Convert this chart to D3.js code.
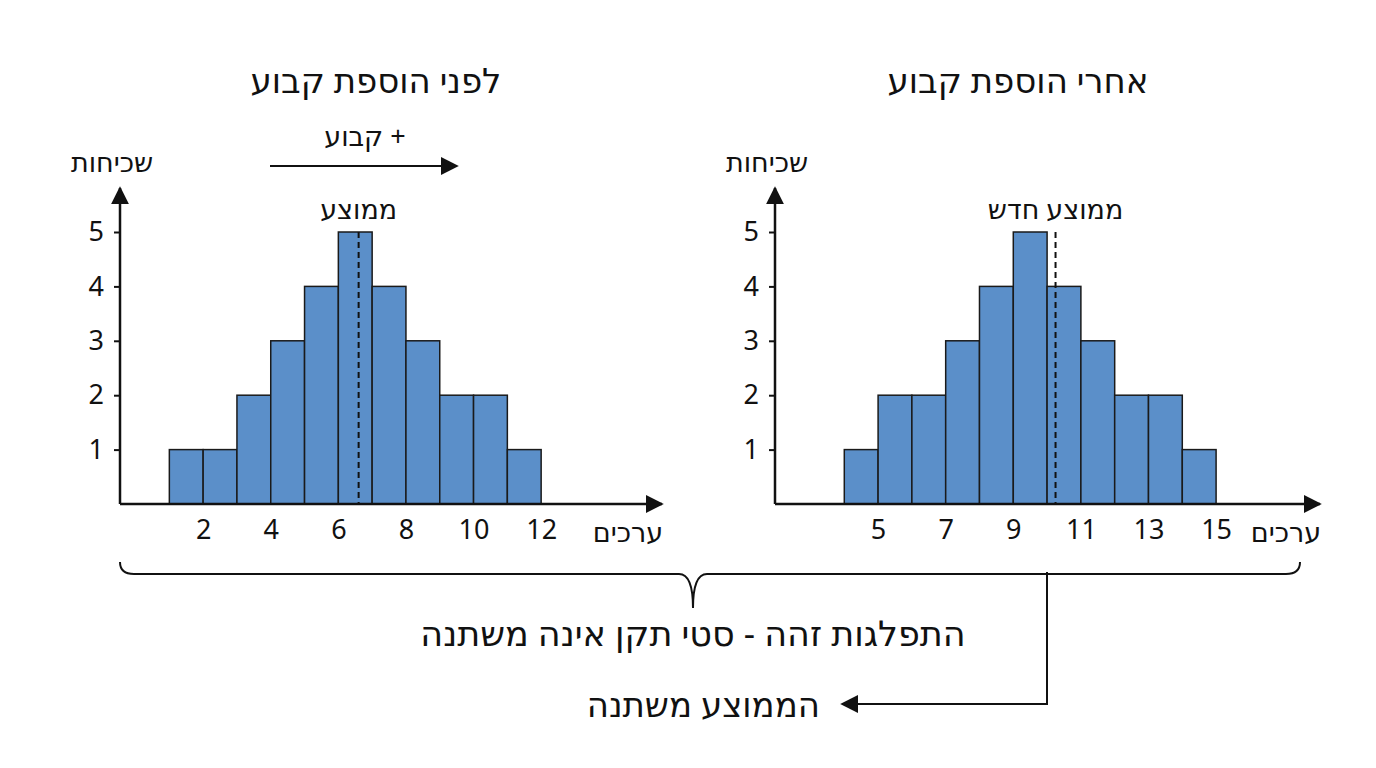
<!DOCTYPE html>
<html><head><meta charset="utf-8">
<script src="https://cdn.jsdelivr.net/npm/d3@7"></script>
<style>body{margin:0;background:#fff}text{font-family:"Noto Sans","DejaVu Sans",sans-serif;fill:#111}</style>
</head><body><svg id="c" width="1376" height="768"></svg>
<script>
// bins: [start, end, count]
const beforeBins = [[1,2,1],[2,3,1],[3,4,2],[4,5,3],[5,6,4],[6,7,5],[7,8,4],[8,9,3],[9,10,2],[10,11,2],[11,12,1]];
const afterBins = [[4,5,1],[5,6,2],[6,7,2],[7,8,3],[8,9,4],[9,10,5],[10,11,4],[11,12,3],[12,13,2],[13,14,2],[14,15,1]];
const beforeTicks = [2,4,6,8,10,12];
const afterTicks = [5,7,9,11,13,15];
const beforeMean = 6.6;
const afterMean = 10.25;
const yTicks = [1,2,3,4,5];

const svg = d3.select("#c");
const defs = svg.append("defs");
defs.append("marker").attr("id","ar").attr("viewBox","0 0 10 10").attr("refX",9).attr("refY",5)
  .attr("markerWidth",18).attr("markerHeight",18).attr("markerUnits","userSpaceOnUse").attr("orient","auto")
  .append("path").attr("d","M0,0L10,5L0,10z").attr("fill","#111");

const y = d3.scaleLinear().domain([0,5]).range([504,232]);

function heb(x, yy, t, size, anchor) {
  return svg.append("text").attr("x",x).attr("y",yy).attr("direction","rtl")
    .attr("text-anchor",anchor||"middle").attr("font-size",size).text(t);
}

function panel(bins, ticks, mean, x0, x1, d0, title, titleX, meanLabel) {
  const ppu = 33.8;
  const x = d3.scaleLinear().domain([d0, d0 + (x1 - x0) / ppu]).range([x0, x1]);
  svg.append("g").selectAll("rect").data(bins).join("rect")
    .attr("x", d => x(d[0])).attr("y", d => y(d[2]))
    .attr("width", d => x(d[1]) - x(d[0])).attr("height", d => y(0) - y(d[2]))
    .attr("fill","#5b8fc9").attr("stroke","#1a1a1a").attr("stroke-width",1.5);
  svg.append("line").attr("x1",x0).attr("y1",504).attr("x2",x1).attr("y2",504)
    .attr("stroke","#111").attr("stroke-width",2.5).attr("marker-end","url(#ar)");
  svg.append("line").attr("x1",x0).attr("y1",504).attr("x2",x0).attr("y2",188)
    .attr("stroke","#111").attr("stroke-width",2.5).attr("marker-end","url(#ar)");
  const gx = svg.append("g").attr("transform","translate(0,504)")
    .call(d3.axisBottom(x).tickValues(ticks).tickSize(0).tickPadding(16));
  gx.select(".domain").remove();
  gx.selectAll("text").attr("font-size",27).style("font-family","Noto Sans, sans-serif");
  const gy = svg.append("g").attr("transform","translate("+x0+",0)")
    .call(d3.axisLeft(y).tickValues(yTicks).tickFormat(d3.format("d")).tickSize(6).tickPadding(10));
  gy.select(".domain").remove();
  gy.selectAll("line").attr("stroke","#111").attr("stroke-width",2);
  gy.selectAll("text").attr("font-size",27).style("font-family","Noto Sans, sans-serif");
  svg.append("line").attr("x1",x(mean)).attr("x2",x(mean)).attr("y1",232).attr("y2",504)
    .attr("stroke","#111").attr("stroke-width",2).attr("stroke-dasharray","6,4");
  heb(x(mean), 219, meanLabel, 27);
  heb(titleX, 93, title, 34);
  heb(x0 - 8, 172, "שכיחות", 27);
  heb(x1 - 34, 542, "ערכים", 27);
  return x;
}

panel(beforeBins, beforeTicks, beforeMean, 120, 662, -0.46, "לפני הוספת קבוע", 376, "ממוצע");
panel(afterBins, afterTicks, afterMean, 775, 1320, 1.95, "אחרי הוספת קבוע", 1018, "ממוצע חדש");

// shift arrow
svg.append("line").attr("x1",270).attr("x2",457).attr("y1",166).attr("y2",166)
  .attr("stroke","#111").attr("stroke-width",2).attr("marker-end","url(#ar)");
heb(365, 146, "+ קבוע", 27);

// brace
const bl = 120, br = 1300, bm = 693, bt = 562, bb = 584;
svg.append("path").attr("fill","none").attr("stroke","#111").attr("stroke-width",2)
  .attr("d", `M${bl},${bt} Q${bl},${bb-10} ${bl+14},${bb-10} L${bm-14},${bb-10} Q${bm},${bb-10} ${bm},${bb+24}
   Q${bm},${bb-10} ${bm+14},${bb-10} L${br-14},${bb-10} Q${br},${bb-10} ${br},${bt}`);
heb(bm, 646, "התפלגות זהה - סטי תקן אינה משתנה", 35);

// mean change pointer
svg.append("path").attr("fill","none").attr("stroke","#111").attr("stroke-width",2)
  .attr("d", `M1047,572 L1047,704 L842,704`).attr("marker-end","url(#ar)");
heb(820, 717, "הממוצע משתנה", 34, "start");
</script></body></html>
